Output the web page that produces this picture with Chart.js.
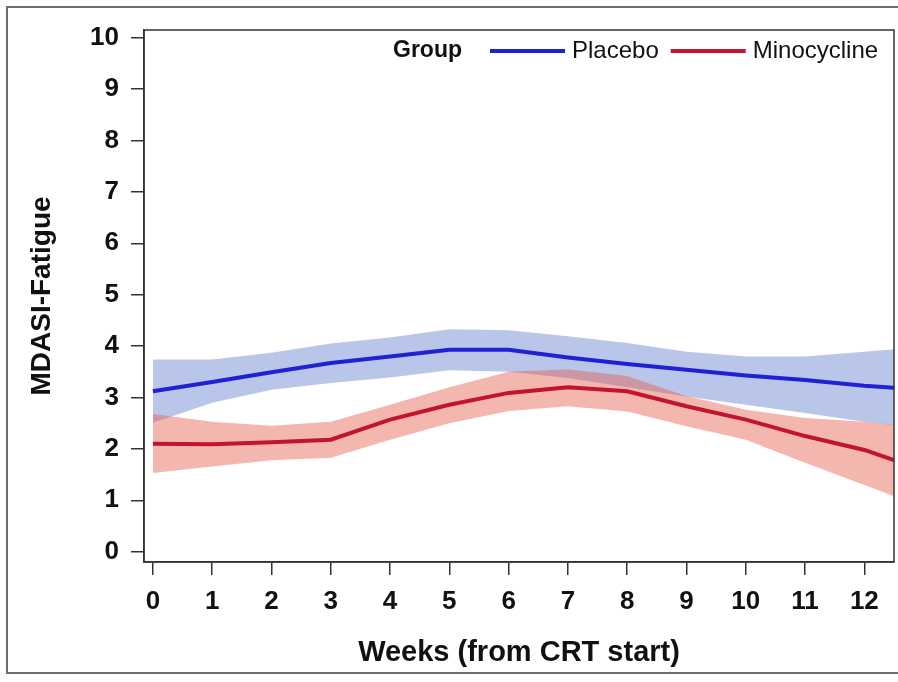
<!DOCTYPE html>
<html>
<head>
<meta charset="utf-8">
<script src="https://cdn.jsdelivr.net/npm/chart.js"></script>
<style>
  html, body { margin: 0; padding: 0; background: #fff; overflow: hidden; }
  #wrap { position: relative; width: 898px; height: 682px; }
  #frame { position: absolute; left: 6px; top: 6px; width: 900px; height: 668px; border: 2px solid #6e6e6e; box-sizing: border-box; }
  canvas { position: absolute; left: 0; top: 0; }
</style>
</head>
<body>
<div id="wrap">
  <div id="frame"></div>
  <canvas id="fatigueChart" width="898" height="682"></canvas>
</div>
<script>
// Semanas y valores
const weeks = [0, 1, 2, 3, 4, 5, 6, 7, 8, 9, 10, 11, 12, 12.5];
const xTicks = [0, 1, 2, 3, 4, 5, 6, 7, 8, 9, 10, 11, 12];
const yTicks = [0, 1, 2, 3, 4, 5, 6, 7, 8, 9, 10];

const placebo   = [3.12, 3.30, 3.49, 3.67, 3.80, 3.93, 3.93, 3.78, 3.65, 3.54, 3.43, 3.34, 3.23, 3.19];
const placeboHi = [3.74, 3.74, 3.87, 4.05, 4.17, 4.33, 4.31, 4.19, 4.06, 3.89, 3.80, 3.80, 3.89, 3.94];
const placeboLo = [2.51, 2.90, 3.15, 3.28, 3.39, 3.53, 3.50, 3.38, 3.20, 3.02, 2.86, 2.70, 2.53, 2.46];

const mino   = [2.10, 2.09, 2.13, 2.18, 2.57, 2.86, 3.09, 3.20, 3.12, 2.83, 2.57, 2.25, 1.98, 1.78];
const minoHi = [2.68, 2.53, 2.45, 2.53, 2.86, 3.20, 3.50, 3.55, 3.42, 3.03, 2.76, 2.60, 2.53, 2.47];
const minoLo = [1.53, 1.66, 1.78, 1.83, 2.18, 2.50, 2.74, 2.83, 2.73, 2.44, 2.18, 1.73, 1.30, 1.08];

const groupTitle = 'Group';
const FONT = '"Liberation Sans", Arial, sans-serif';

const pts = arr => arr.map((v, i) => ({ x: weeks[i], y: v }));

function band(hi, lo, color, order) {
    return [
        { data: pts(hi), fill: '+1', backgroundColor: color, borderWidth: 0, pointRadius: 0, tension: 0, order: order, isBand: true },
        { data: pts(lo), fill: false, borderWidth: 0, pointRadius: 0, tension: 0, order: order, isBand: true }
    ];
}

// Caja completa del area de trazado
const boxPlugin = {
    id: 'box',
    afterDraw(chart) {
        const { ctx, chartArea: a } = chart;
        ctx.save();
        ctx.strokeStyle = '#333';
        ctx.lineWidth = 1.5;
        ctx.strokeRect(a.left, a.top, a.right - a.left, a.bottom - a.top);
        ctx.restore();
    }
};

// Leyenda dentro del grafico: "Group" + muestras de linea
const legendPlugin = {
    id: 'inlineLegend',
    afterDraw(chart) {
        const ctx = chart.ctx;
        const y = 51;
        ctx.save();
        ctx.textBaseline = 'middle';
        ctx.fillStyle = '#111';
        ctx.font = 'bold 23px ' + FONT;
        ctx.fillText(groupTitle, 393, y);
        let x = 490;
        ctx.font = '24px ' + FONT;
        chart.data.datasets.filter(d => !d.isBand).forEach(d => {
            ctx.strokeStyle = d.borderColor;
            ctx.lineWidth = 4;
            ctx.beginPath();
            ctx.moveTo(x, y);
            ctx.lineTo(x + 75, y);
            ctx.stroke();
            ctx.fillStyle = '#111';
            ctx.fillText(d.label, x + 82, y);
            x += 82 + ctx.measureText(d.label).width + 12;
        });
        ctx.restore();
    }
};

function createFatigueChart() {
    const ctx = document.getElementById('fatigueChart').getContext('2d');
    new Chart(ctx, {
        type: 'line',
        data: {
            datasets: [
                ...band(placeboHi, placeboLo, 'rgba(80, 112, 200, 0.40)', 4),
                ...band(minoHi, minoLo, 'rgba(228, 95, 80, 0.45)', 3),
                { label: 'Placebo', data: pts(placebo), borderColor: '#2020d4', borderWidth: 4, pointRadius: 0, tension: 0, fill: false, order: 1 },
                { label: 'Minocycline', data: pts(mino), borderColor: '#c2142c', borderWidth: 4, pointRadius: 0, tension: 0, fill: false, order: 0 }
            ]
        },
        options: {
            responsive: false,
            animation: false,
            layout: { padding: { left: 21, top: 30, right: 4, bottom: 8 } },
            plugins: {
                legend: { display: false },
                tooltip: { enabled: false }
            },
            scales: {
                x: {
                    type: 'linear',
                    min: -0.15,
                    max: 12.5,
                    afterBuildTicks: s => { s.ticks = xTicks.map(v => ({ value: v })); },
                    afterFit: s => { s.height = 112; },
                    grid: { drawOnChartArea: false, drawTicks: true, tickLength: 13, color: '#333', lineWidth: 1.5 },
                    border: { display: true, color: '#333', width: 1.5 },
                    ticks: { color: '#111', padding: 11, maxRotation: 0, autoSkip: false, font: { family: FONT, size: 26, weight: 'bold' } },
                    title: { display: true, text: 'Weeks (from CRT start)', color: '#111', font: { family: FONT, size: 29, weight: 'bold' } }
                },
                y: {
                    min: -0.2,
                    max: 10.15,
                    afterBuildTicks: s => { s.ticks = yTicks.map(v => ({ value: v })); },
                    afterFit: s => { s.width = 123; },
                    grid: { drawOnChartArea: false, drawTicks: true, tickLength: 13, color: '#333', lineWidth: 1.5 },
                    border: { display: true, color: '#333', width: 1.5 },
                    ticks: { color: '#111', padding: 12, font: { family: FONT, size: 26, weight: 'bold' } },
                    title: { display: true, text: 'MDASI-Fatigue', color: '#111', font: { family: FONT, size: 28, weight: 'bold' } }
                }
            }
        },
        plugins: [boxPlugin, legendPlugin]
    });
}

document.addEventListener('DOMContentLoaded', () => {
    createFatigueChart();
});
</script>
</body>
</html>
